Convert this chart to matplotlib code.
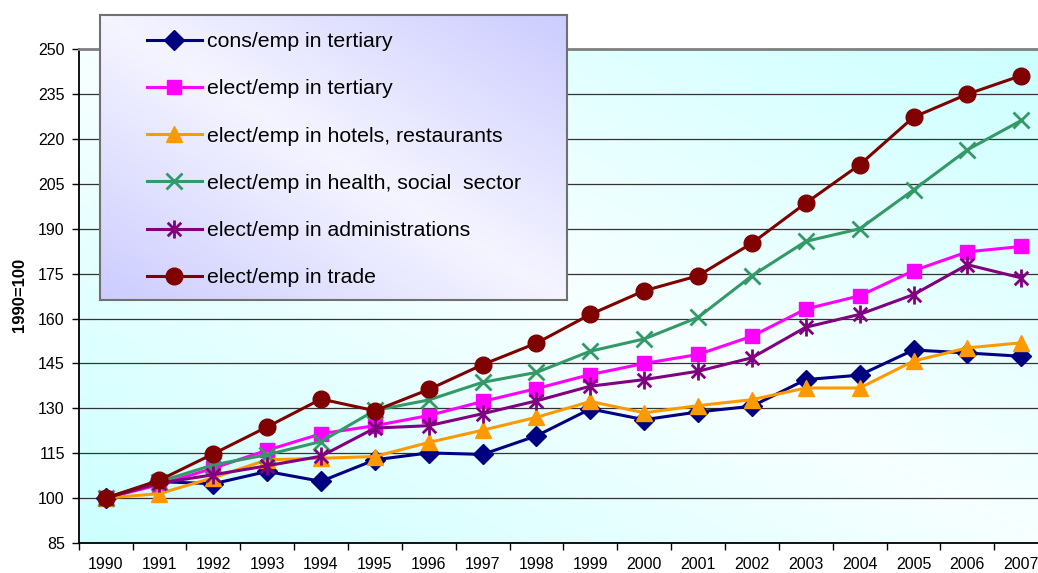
import numpy as np
import matplotlib
matplotlib.use("Agg")
from matplotlib import pyplot as plt
from matplotlib.path import Path

plt.rcParams["font.family"] = ["Liberation Sans", "DejaVu Sans"]

years = [str(y) for y in range(1990, 2008)]

cons_tertiary = [100, 105.5, 104.8, 108.9, 105.6, 112.8, 115.1, 114.6, 120.8, 129.8,
                 126.2, 128.8, 130.7, 139.6, 141.1, 149.5, 148.5, 147.4]
elect_tertiary = [100, 104.5, 110.0, 116.0, 121.5, 124.2, 127.6, 132.3, 136.6, 141.3,
                  145.0, 148.0, 154.1, 163.2, 167.6, 176.0, 182.3, 184.1]
elect_hotels = [100, 101.5, 106.8, 112.8, 113.3, 113.9, 118.6, 122.7, 127.0, 132.3,
                128.5, 130.9, 132.9, 136.8, 136.8, 145.8, 150.2, 151.9]
elect_health = [100, 105.5, 111.1, 114.5, 118.9, 129.3, 132.8, 138.7, 142.0, 149.1,
                153.2, 160.4, 174.3, 185.8, 190.0, 203.0, 216.4, 226.2]
elect_admin = [100, 105.0, 107.8, 110.8, 114.0, 123.4, 124.2, 128.2, 132.5, 137.4,
               139.6, 142.4, 146.9, 157.1, 161.4, 168.0, 178.0, 173.6]
elect_trade = [100, 106.0, 114.8, 123.8, 133.1, 129.2, 136.3, 144.6, 151.8, 161.4,
               169.3, 174.3, 185.2, 198.6, 211.4, 227.3, 235.0, 241.2]

labels = ["cons/emp in tertiary", "elect/emp in tertiary",
          "elect/emp in hotels, restaurants", "elect/emp in health, social  sector",
          "elect/emp in administrations", "elect/emp in trade"]

yticks = list(range(85, 251, 15))

# asterisk marker like excel: x plus vertical bar
star = Path([(0, -1), (0, 1), (-0.75, -0.75), (0.75, 0.75), (-0.75, 0.75), (0.75, -0.75)],
            [Path.MOVETO, Path.LINETO] * 3)


def gradient(c_corner, c_mid, n=200):
    x, y = np.meshgrid(np.linspace(0, 1, n), np.linspace(0, 1, n))
    t = np.abs(x + y - 1)[..., None]
    return np.array(c_mid) * (1 - t) + np.array(c_corner) * t


fig = plt.figure(figsize=(10.38, 5.73), dpi=100)
ax = fig.add_axes([0.0758, 0.0524, 0.934, 0.8616])

x = np.arange(len(years))
ax.imshow(gradient((0.80, 1.0, 1.0), (0.97, 1.0, 1.0)), origin="lower", aspect="auto",
          extent=[-0.5, len(years) - 0.5, 85, 250], zorder=0)

lw = 2.2
ax.plot(x, cons_tertiary, color="#000080", lw=lw, marker="D", ms=10, zorder=3)
ax.plot(x, elect_tertiary, color="#FF00FF", lw=lw, marker="s", ms=10.5, zorder=3)
ax.plot(x, elect_hotels, color="#FF9900", lw=lw, marker="^", ms=12, zorder=3)
ax.plot(x, elect_health, color="#339966", lw=lw, marker="x", ms=11, mew=2, zorder=3)
ax.plot(x, elect_admin, color="#800080", lw=lw, marker=star, ms=13, mew=2, zorder=3)
ax.plot(x, elect_trade, color="#800000", lw=lw, marker="o", ms=12, zorder=3)

ax.set_xlim(-0.5, len(years) - 0.5)
ax.set_ylim(85, 250)
ax.set_yticks(yticks)
ax.set_yticklabels([str(v) for v in yticks])
ax.set_xticks(np.arange(len(years) + 1) - 0.5)
ax.set_xticklabels([])
ax.set_xticks(x, minor=True)
ax.set_xticklabels(years, minor=True)
ax.tick_params(axis="x", which="minor", length=0, pad=10, labelsize=11.5)
ax.tick_params(axis="x", which="major", length=5, width=1, direction="out")
ax.tick_params(axis="y", length=5, width=1, pad=5, labelsize=11.5)
ax.grid(axis="y", color="#333333", lw=0.9, zorder=1)
ax.set_axisbelow(True)
ax.spines["top"].set_color("#808080")
ax.spines["top"].set_linewidth(2)
ax.spines["right"].set_visible(False)
ax.spines["left"].set_linewidth(1.3)
ax.spines["bottom"].set_linewidth(1.3)

fig.text(20 / 1038, 0.485, "1990=100", rotation=90, ha="center", va="center",
         fontsize=12, fontweight="bold")

# legend box with gradient fill
lax = fig.add_axes([100 / 1038, 1 - 300 / 573, 467 / 1038, 285 / 573], zorder=5)
lax.imshow(gradient((0.80, 0.80, 1.0), (0.96, 0.96, 1.0)), origin="lower", aspect="auto",
           extent=[0, 1, 0, 1])
lax.set_xlim(0, 1)
lax.set_ylim(0, 1)
lax.set_xticks([])
lax.set_yticks([])
for s in lax.spines.values():
    s.set_color("#707070")
    s.set_linewidth(1.5)

handles = ax.get_lines()
lax.legend(handles, labels, loc="upper left", bbox_to_anchor=(0.1, 0.94), frameon=False,
           fontsize=15.3, handlelength=2.6, handletextpad=0.25, labelspacing=1.33,
           borderpad=0, borderaxespad=0)

fig.savefig("out.png", dpi=100)
